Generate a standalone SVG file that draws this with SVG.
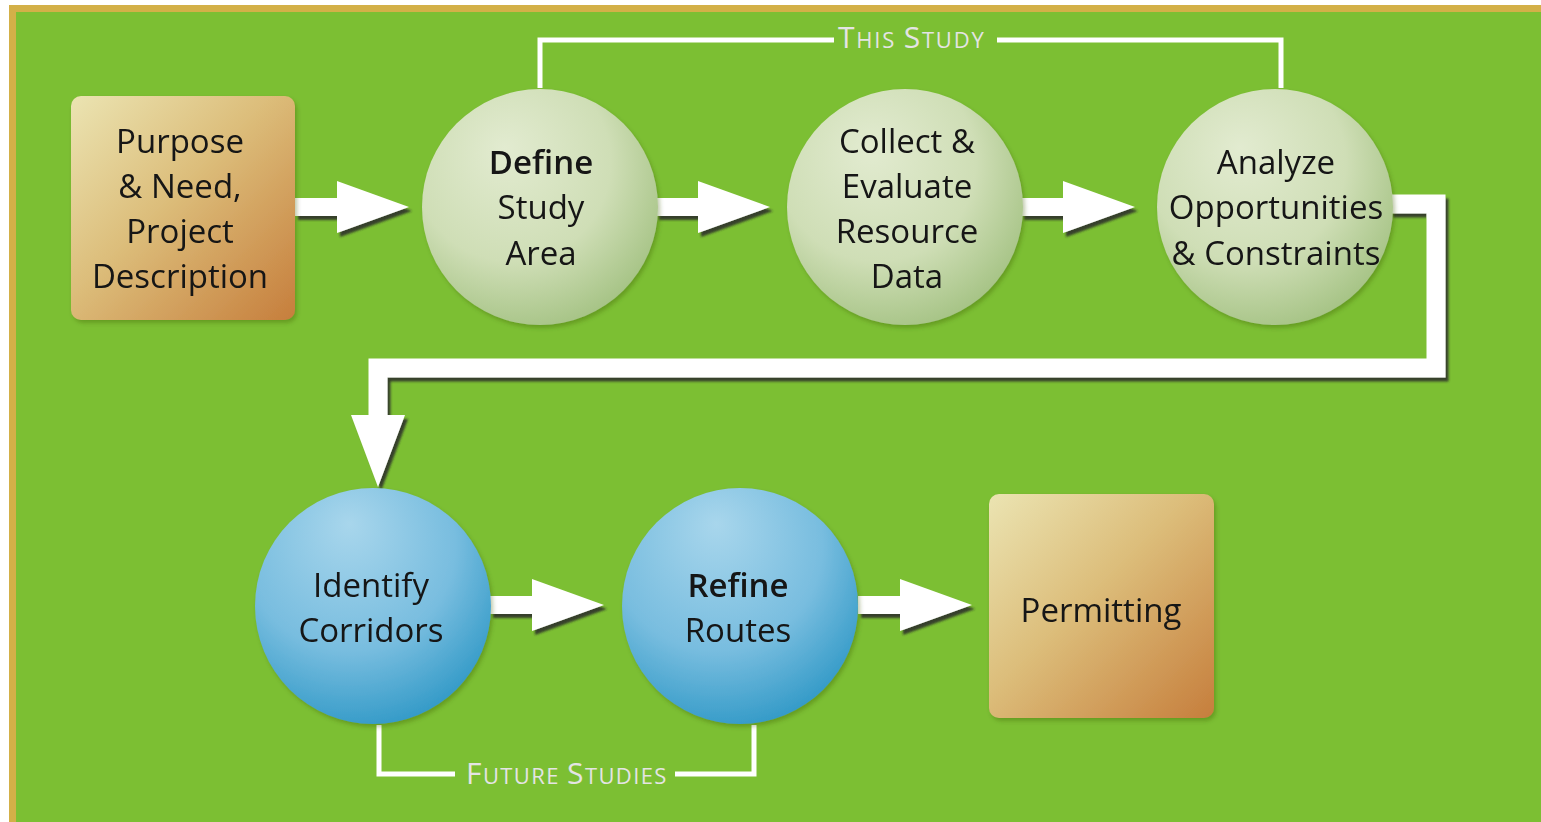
<svg xmlns="http://www.w3.org/2000/svg" width="1541" height="822" viewBox="0 0 1541 822">
<defs>
<style>
.lbl{font-family:"Open Sans","Noto Sans","DejaVu Sans",sans-serif;font-size:33px;fill:#141414;text-anchor:middle}
.b{font-weight:600}
.cap{font-family:"Open Sans","Noto Sans","DejaVu Sans",sans-serif;fill:#e4e4e4;font-size:22px;letter-spacing:1.8px}
.fut{letter-spacing:1.4px}
.big{font-size:30px}
.brk{fill:none;stroke:#ffffff;stroke-width:5}
.arw{fill:#ffffff;filter:url(#sh)}
</style>
<filter id="sh" x="-20%" y="-20%" width="140%" height="140%">
<feDropShadow dx="3" dy="4" stdDeviation="1.2" flood-color="#2a2a2a" flood-opacity="0.85"/>
</filter>
<filter id="ns" x="-10%" y="-10%" width="120%" height="120%">
<feDropShadow dx="2" dy="3" stdDeviation="2" flood-color="#3a5a10" flood-opacity="0.35"/>
</filter>
<radialGradient id="gGreen" cx="0.4" cy="0.35" r="0.7" fx="0.35" fy="0.25">
<stop offset="0" stop-color="#e2ebd0"/>
<stop offset="0.6" stop-color="#cfdeb6"/>
<stop offset="1" stop-color="#a4c283"/>
</radialGradient>
<radialGradient id="gBlue" cx="0.4" cy="0.3" r="0.75" fx="0.4" fy="0.15">
<stop offset="0" stop-color="#a8d6ec"/>
<stop offset="0.6" stop-color="#78bddf"/>
<stop offset="1" stop-color="#2f98c6"/>
</radialGradient>
<linearGradient id="gBox" x1="0" y1="0" x2="1" y2="1">
<stop offset="0" stop-color="#ebe4b2"/>
<stop offset="0.45" stop-color="#dcbd7a"/>
<stop offset="1" stop-color="#c67e3c"/>
</linearGradient>
<path id="arrow" d="M0,-9 H42 V-26 L114,0 L42,26 V9 H0 Z"/>
</defs>

<rect x="0" y="0" width="1541" height="822" fill="#ffffff"/>
<rect x="9" y="5" width="1540" height="822" fill="#d3b048"/>
<rect x="16" y="12" width="1530" height="812" fill="#7cbf33"/>

<g id="connectors">
<path class="brk" d="M540,88 V40 H834"/>
<path class="brk" d="M997,40 H1281 V88"/>
<text class="cap" x="838" y="48"><tspan class="big">T</tspan>HIS <tspan class="big">S</tspan>TUDY</text>
<path class="brk" d="M379,725 V774 H455"/>
<path class="brk" d="M675,774 H754 V725"/>
<text class="cap fut" x="466" y="784"><tspan class="big">F</tspan>UTURE <tspan class="big">S</tspan>TUDIES</text>

<use href="#arrow" class="arw" x="295" y="207"/>
<use href="#arrow" class="arw" x="656" y="207"/>
<use href="#arrow" class="arw" x="1021" y="207"/>
<use href="#arrow" class="arw" x="490" y="605"/>
<use href="#arrow" class="arw" x="858" y="605"/>

<g filter="url(#sh)">
<path d="M1390,204 H1436 V368 H378 V418" fill="none" stroke="#ffffff" stroke-width="19"/>
<polygon points="351,415 405,415 378,487" fill="#ffffff"/>
</g>
</g>

<g id="purpose" filter="url(#ns)">
<rect x="71" y="96" width="224" height="224" rx="10" fill="url(#gBox)"/>
<text class="lbl" x="180" y="153">Purpose</text>
<text class="lbl" x="180" y="198">&amp; Need,</text>
<text class="lbl" x="180" y="243">Project</text>
<text class="lbl" x="180" y="288">Description</text>
</g>

<g id="define" filter="url(#ns)">
<circle cx="540" cy="207" r="118" fill="url(#gGreen)"/>
<text class="lbl b" x="541" y="174">Define</text>
<text class="lbl" x="541" y="219">Study</text>
<text class="lbl" x="541" y="265">Area</text>
</g>

<g id="collect" filter="url(#ns)">
<circle cx="905" cy="207" r="118" fill="url(#gGreen)"/>
<text class="lbl" x="907" y="153">Collect &amp;</text>
<text class="lbl" x="907" y="198">Evaluate</text>
<text class="lbl" x="907" y="243">Resource</text>
<text class="lbl" x="907" y="288">Data</text>
</g>

<g id="analyze" filter="url(#ns)">
<circle cx="1275" cy="207" r="118" fill="url(#gGreen)"/>
<text class="lbl" x="1276" y="174">Analyze</text>
<text class="lbl" x="1276" y="219">Opportunities</text>
<text class="lbl" x="1276" y="265">&amp; Constraints</text>
</g>

<g id="identify" filter="url(#ns)">
<circle cx="373" cy="606" r="118" fill="url(#gBlue)"/>
<text class="lbl" x="371" y="597">Identify</text>
<text class="lbl" x="371" y="642">Corridors</text>
</g>

<g id="refine" filter="url(#ns)">
<circle cx="740" cy="606" r="118" fill="url(#gBlue)"/>
<text class="lbl b" x="738" y="597">Refine</text>
<text class="lbl" x="738" y="642">Routes</text>
</g>

<g id="permitting" filter="url(#ns)">
<rect x="989" y="494" width="225" height="224" rx="10" fill="url(#gBox)"/>
<text class="lbl" x="1101" y="622">Permitting</text>
</g>
</svg>
